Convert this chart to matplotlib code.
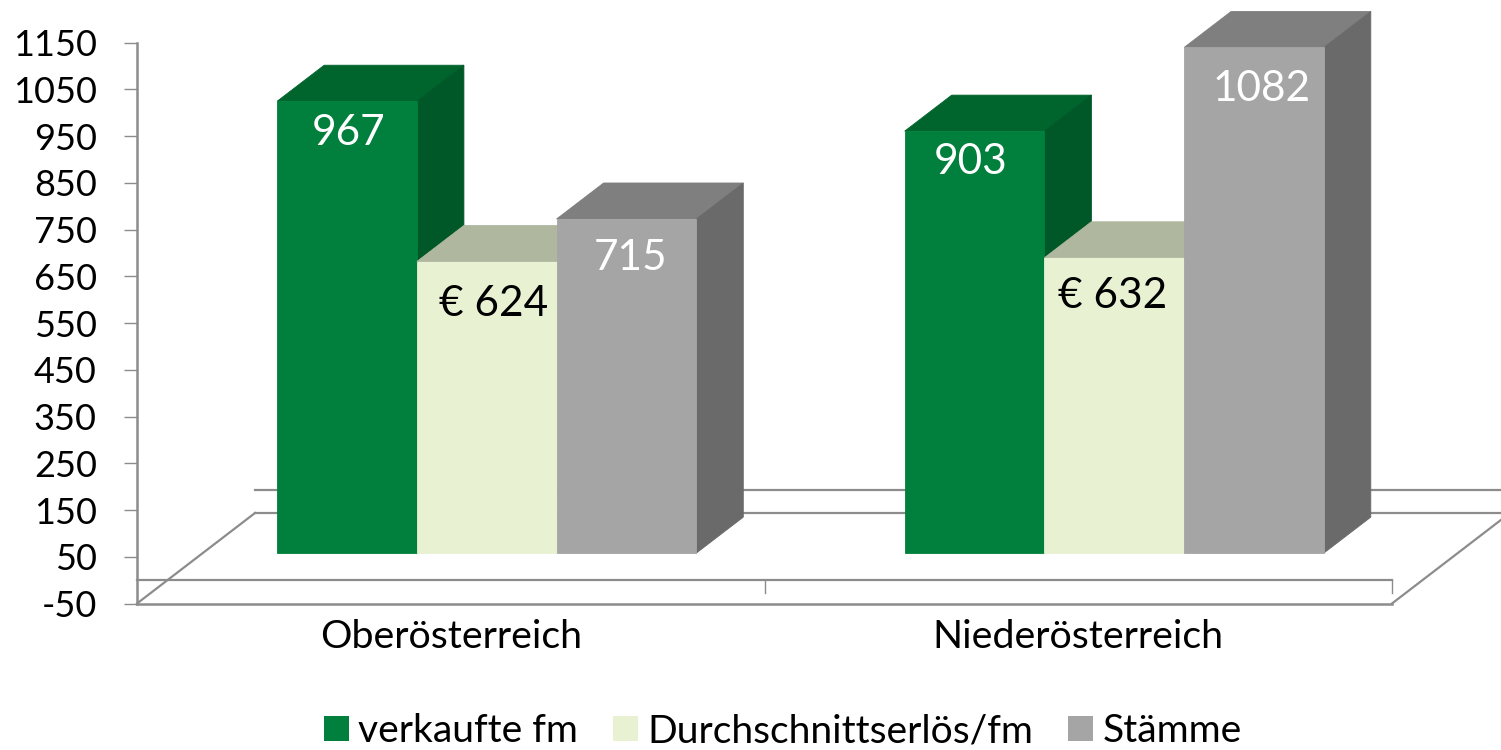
import matplotlib
matplotlib.use('Agg')
import matplotlib.pyplot as pyplot
from matplotlib.patches import Patch, Polygon

# chart values
regions = ['Oberösterreich', 'Niederösterreich']
series_names = ['verkaufte fm', 'Durchschnittserlös/fm', 'Stämme']
verkaufte_fm = [967, 903]
durchschnittserloes = [624, 632]
staemme = [715, 1082]
yticks = list(range(-50, 1151, 100))
ytick_labels = [str(v) for v in yticks]

# colours per series: front, top, side
front_colors = ['#00803C', '#E8F2D3', '#A5A5A5']
top_colors = ['#00642D', '#AFB89E', '#7F7F7F']
side_colors = ['#005727', '#A9B296', '#6A6A6A']
label_colors = ['white', 'black', 'white']
line_color = '#8C8C8C'

# pixels per data unit
px_x = 627.5
px_y = 560.8 / 1200

# fake 3d offsets, in data units
bar_width = 139.7 / px_x
shift_x = 36 / px_x
lift_y = 27 / px_y
depth_x = 47 / px_x
depth_y = 36 / px_y
floor_x = 118 / px_x
floor_y = 90.5 / px_y

# label offset from bar top centre, in pixels
label_offsets = [[(2, -32), (7, -42), (4, -39)],
                 [(-4, -31), (-2, -38), (8, -42)]]

pyplot.rcParams['font.family'] = 'Lato'

fig = pyplot.figure(figsize=(15.01, 7.5), dpi=100)
ax = fig.add_axes([137 / 1501, 1 - 603.5 / 750, 1255 / 1501, 560.8 / 750])
ax.set_xlim(-0.5, 1.5)
ax.set_ylim(-50, 1150)

# floor and back wall lines
line_style = dict(color=line_color, lw=1.6, clip_on=False, zorder=1)
ax.plot([-0.5, 1.5], [0, 0], **line_style)
ax.plot([-0.5, -0.5 + floor_x], [-50, -50 + floor_y], **line_style)
ax.plot([1.5, 1.5 + floor_x], [-50, -50 + floor_y], **line_style)
ax.plot([-0.5 + floor_x, 1.5 + floor_x], [-50 + floor_y, -50 + floor_y], **line_style)
ax.plot([-0.5 + floor_x, 1.5 + floor_x], [floor_y, floor_y], **line_style)
ax.plot([0.5, 0.5], [0, -28], color=line_color, lw=1, clip_on=False, zorder=1)
ax.plot([1.5, 1.5], [0, -28], color=line_color, lw=1, clip_on=False, zorder=1)

# bars, left to right so each one covers the one before
all_series = [verkaufte_fm, durchschnittserloes, staemme]
for r in range(len(regions)):
    for s, values in enumerate(all_series):
        left = r + shift_x + (s - 1.5) * bar_width
        right = left + bar_width
        top = values[r] + lift_y
        # side stops where the next bar starts, otherwise it shows through the seam
        low = lift_y
        if s < len(all_series) - 1:
            low = min(values[r], all_series[s + 1][r]) + lift_y
        # thin edge in the same colour hides the seams between faces
        ax.add_patch(Polygon([(left, top), (left + depth_x, top + depth_y),
                              (right + depth_x, top + depth_y), (right, top)],
                             facecolor=top_colors[s], edgecolor=top_colors[s], lw=0.6,
                             clip_on=False, zorder=2))
        ax.add_patch(Polygon([(right, low), (right + depth_x, low + depth_y),
                              (right + depth_x, top + depth_y), (right, top)],
                             facecolor=side_colors[s], edgecolor=side_colors[s], lw=0.6,
                             clip_on=False, zorder=2))
        ax.bar(left, values[r], bar_width, bottom=lift_y, align='edge',
               color=front_colors[s], edgecolor=front_colors[s], lw=0.6,
               clip_on=False, zorder=2)
        text = '€ %d' % values[r] if s == 1 else str(values[r])
        ax.annotate(text, (left + bar_width / 2, top), xytext=label_offsets[r][s],
                    textcoords='offset pixels', ha='center', va='center',
                    color=label_colors[s], fontsize=30.5, zorder=5)

ax.spines['top'].set_visible(False)
ax.spines['right'].set_visible(False)
ax.spines['left'].set_color(line_color)
ax.spines['bottom'].set_color(line_color)
ax.spines['left'].set_linewidth(1.8)
ax.spines['bottom'].set_linewidth(1.8)

ax.set_yticks(yticks)
ax.set_yticklabels(ytick_labels)
ax.tick_params(axis='y', length=9.4, width=1, color=line_color, pad=19.5, labelsize=26)
ax.set_xticks([0, 1])
ax.set_xticklabels(regions)
ax.tick_params(axis='x', length=0, pad=11, labelsize=28.4)

handles = [Patch(facecolor=c, edgecolor='none') for c in front_colors]
fig.legend(handles, series_names, loc='center', bbox_to_anchor=(783 / 1501, 1 - 731 / 750),
           ncol=3, frameon=False, fontsize=28.1, handlelength=0.62, handleheight=0.62,
           handletextpad=0.25, columnspacing=0.9, borderpad=0, borderaxespad=0)

fig.savefig('out.png', dpi=100)
